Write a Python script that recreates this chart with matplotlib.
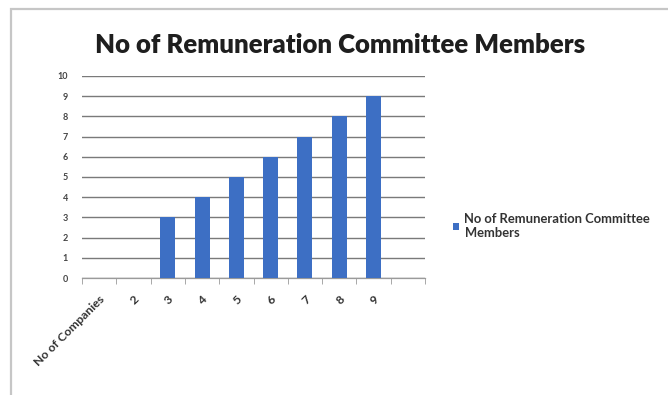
import matplotlib
matplotlib.use("Agg")
import matplotlib.pyplot as plt
import numpy as np

# Chart data
categories = ["No of Companies", "2", "3", "4", "5", "6", "7", "8", "9", ""]
members = [0, 0, 3, 4, 5, 6, 7, 8, 9, 0]
y_ticks = list(range(0, 11))
series_name = "No of Remuneration Committee Members"
title = "No of Remuneration Committee Members"

plt.rcParams["font.family"] = ["Lato", "DejaVu Sans"]

fig = plt.figure(figsize=(6.68, 3.95), dpi=100)
fig.patch.set_facecolor("white")

# Outer chart border (left and top edges visible)
border = plt.Rectangle((11 / 668, -0.05), 1.2, 1.05 - 9 / 395,
                       transform=fig.transFigure, fill=False,
                       edgecolor="#c6c6c6", linewidth=1.6)
fig.patches.append(border)

ax = fig.add_axes([82 / 668, 1 - 278 / 395, (425 - 82) / 668, (278 - 76) / 395])
x = np.arange(len(categories))
ax.bar(x, members, width=0.44, color="#3d6fc4", zorder=3,
       label=series_name)

ax.set_xlim(-0.5, len(categories) - 0.5)
ax.set_ylim(0, 10)
ax.set_yticks(y_ticks)
ax.set_yticklabels([str(v) for v in y_ticks], fontsize=6.5,
                   fontweight="bold", color="#444444")
ax.yaxis.grid(True, color="#7a7a7a", linewidth=1.0, zorder=0)
ax.set_axisbelow(True)

ax.set_xticks(x)
ax.set_xticklabels(categories, rotation=45, ha="right",
                   rotation_mode="anchor", fontsize=8.8, fontweight="bold",
                   color="#333333")
ax.set_xticks(np.arange(len(categories) + 1) - 0.5, minor=True)
ax.tick_params(axis="x", which="major", length=0, pad=11)
ax.tick_params(axis="x", which="minor", length=4, color="#9a9a9a")
ax.tick_params(axis="y", length=0, pad=10)

for side in ("top", "right"):
    ax.spines[side].set_visible(False)
ax.spines["left"].set_visible(False)
ax.spines["bottom"].set_color("#9a9a9a")
ax.spines["bottom"].set_linewidth(0.9)

fig.text(340 / 668, 1 - 45 / 395, title, ha="center", va="center",
         fontsize=18.5, fontweight="heavy", color="#1e1e1e")

leg = fig.legend(handles=ax.containers[0].patches[:1],
                 labels=["No of Remuneration Committee\nMembers"],
                 loc="center left", bbox_to_anchor=(441 / 668, 1 - 226 / 395),
                 frameon=False, handlelength=0.5,
                 handleheight=0.5, handletextpad=0.4, labelcolor="#333333",
                 prop={"weight": "bold", "size": 9.4})

fig.savefig("out.png", dpi=100, facecolor="white")
